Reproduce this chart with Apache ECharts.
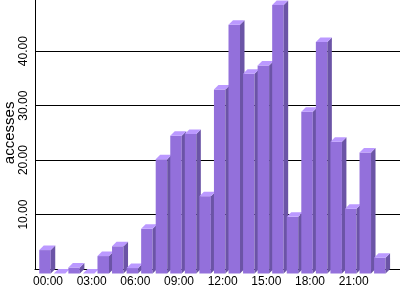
<!DOCTYPE html>
<html>
<head>
<meta charset="utf-8">
<script src="https://cdn.jsdelivr.net/npm/echarts@6/dist/echarts.min.js"></script>
<style>html,body{margin:0;padding:0;background:#fff}#c{width:400px;height:300px}</style>
</head>
<body>
<div id="c"></div>
<script>
var hours = ["00:00","01:00","02:00","03:00","04:00","05:00","06:00","07:00","08:00","09:00","10:00","11:00",
             "12:00","13:00","14:00","15:00","16:00","17:00","18:00","19:00","20:00","21:00","22:00","23:00"];
var accesses = [4.3, 0, 1.1, 0, 3.2, 5.0, 1.0, 8.2, 21.0, 25.3, 25.6, 14.2,
                33.8, 45.7, 36.7, 38.2, 49.3, 10.4, 29.7, 42.5, 24.2, 11.9, 22.2, 2.9];
var yMax = 50;
var yStep = 10;

var chart = echarts.init(document.getElementById('c'), null, {renderer: 'canvas'});
var FONT = '"Liberation Sans", Arial, sans-serif';

function renderBar(params, api) {
  var i = api.value(0);
  var v = api.value(1);
  var top = api.coord([i, v]);
  var base = api.coord([i, 0]);
  var bw = api.size([1, 0])[0];
  var dx = 4.5, dy = 4.5;
  var fl = top[0] - 0.6 * bw;
  var fw = 0.79 * bw;
  var fr = fl + fw;
  var ft = top[1] + dy;
  var fb = base[1] + dy;
  return {
    type: 'group',
    children: [
      {type: 'rect', shape: {x: fl, y: ft, width: fw, height: fb - ft},
       style: {fill: '#9370DB'}},
      {type: 'polygon', shape: {points: [[fr, ft], [fr + dx, ft - dy], [fr + dx, fb - dy], [fr, fb]]},
       style: {fill: '#6B54A6'}},
      {type: 'polygon', shape: {points: [[fl, ft], [fl + dx, ft - dy], [fr + dx, ft - dy], [fr, ft]]},
       style: {fill: '#BB99FF'}}
    ]
  };
}

chart.setOption({
  animation: false,
  backgroundColor: '#fff',
  grid: [
    {left: 40.7, right: 9.9, top: -3.25, bottom: 31, containLabel: false, outerBoundsMode: 'none'},
    {left: 35, right: 0, top: -3.25, bottom: 31, containLabel: false, outerBoundsMode: 'none'}
  ],
  xAxis: [
    {type: 'category', gridIndex: 0, data: hours, boundaryGap: true,
     axisLine: {show: false}, axisTick: {show: false},
     axisLabel: {interval: 2, margin: 7, color: '#000', fontFamily: FONT, fontSize: 12}},
    {type: 'value', gridIndex: 1, min: 0, max: 1,
     axisLine: {show: true, lineStyle: {color: '#000', width: 1}},
     axisTick: {show: false}, axisLabel: {show: false}, splitLine: {show: false}}
  ],
  yAxis: [
    {type: 'value', gridIndex: 0, min: 0, max: yMax, interval: yStep, show: false},
    {type: 'value', gridIndex: 1, min: 0, max: yMax, interval: yStep,
     name: 'accesses', nameLocation: 'middle', nameGap: 18, nameMoveOverlap: false,
     nameTextStyle: {color: '#000', fontFamily: FONT, fontSize: 15},
     axisLine: {show: true, lineStyle: {color: '#000', width: 1}},
     axisTick: {show: false},
     axisLabel: {rotate: 90, margin: 5, color: '#000', fontFamily: FONT, fontSize: 12,
                 showMinLabel: false, showMaxLabel: false,
                 formatter: function (v) { return v.toFixed(2); }},
     splitLine: {show: true, lineStyle: {color: '#000', width: 1}}}
  ],
  series: [{
    type: 'custom', xAxisIndex: 0, yAxisIndex: 0, z: 10, clip: false,
    renderItem: renderBar,
    data: accesses.map(function (v, i) { return [i, v]; })
  }]
});
</script>
</body>
</html>
